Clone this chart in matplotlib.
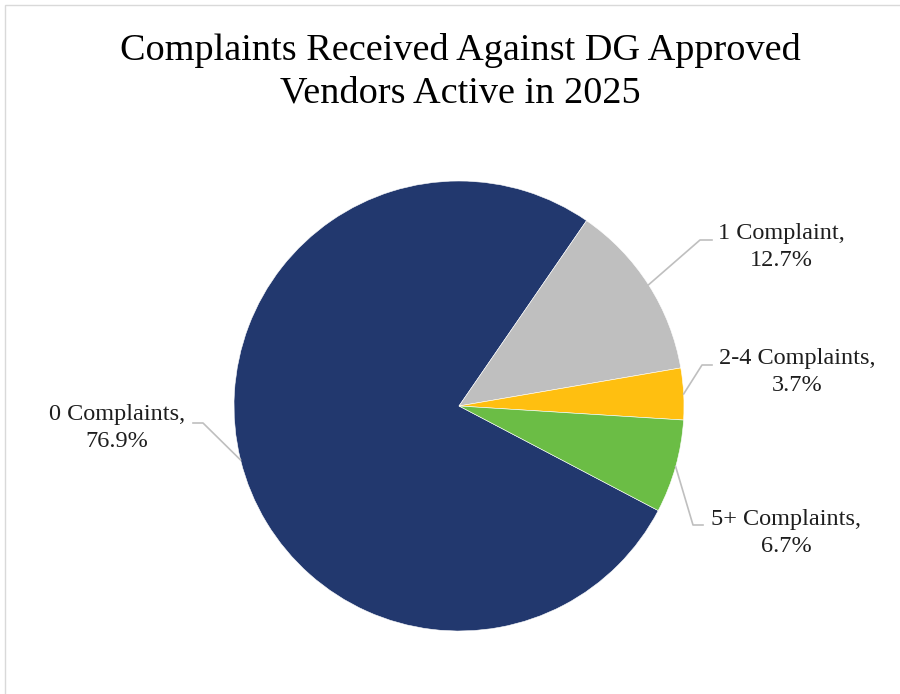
import numpy as np
import matplotlib
matplotlib.use("Agg")
import matplotlib.pyplot as plt
from matplotlib.patches import Rectangle

# ── data ─────────────────────────────────────────────
CATEGORIES = ["0 Complaints", "1 Complaint", "2-4 Complaints", "5+ Complaints"]
SHARES = [76.9, 12.7, 3.7, 6.7]
COLORS = ["#22386E", "#BFBFBF", "#FFBF10", "#6BBD45"]
TITLE = "Complaints Received Against DG Approved\nVendors Active in 2025"

FONT = ["Liberation Serif", "DejaVu Serif"]
W, H = 900, 694
CX, CY, R = 459, 406, 225  # pie centre / radius in pixels

# label centre (px) and horizontal stub: (y, x_near_text, x_far)
LABEL_POS = [(117, 428), (781, 247), (797, 372), (786, 533)]
STUBS = [(423, 193, 203), (240, 712, 700), (365, 712, 702), (525, 703, 693)]

fig = plt.figure(figsize=(W / 100, H / 100), dpi=100)
fig.patches.append(Rectangle((5 / W, -0.1), 1.2, 1.1 - 5 / H, transform=fig.transFigure,
                             fill=False, edgecolor="#D9D9D9", linewidth=1.0))

ax = fig.add_axes([(CX - R) / W, (H - CY - R) / H, 2 * R / W, 2 * R / H])
wedges, _ = ax.pie(SHARES, colors=COLORS, startangle=-27.7, counterclock=False,
                   radius=1.0, wedgeprops=dict(edgecolor="white", linewidth=0.4))
ax.set_xlim(-1, 1)
ax.set_ylim(-1, 1)
ax.set_aspect("equal")
ax.axis("off")


def px2data(px, py):
    return (px - CX) / R, (CY - py) / R


for w, cat, val, (lx, ly), (sy, sx0, sx1) in zip(wedges, CATEGORIES, SHARES, LABEL_POS, STUBS):
    mid = np.deg2rad((w.theta1 + w.theta2) / 2)
    tip = (np.cos(mid), np.sin(mid))
    a = px2data(sx0, sy)
    b = px2data(sx1, sy)
    ax.plot([a[0], b[0], tip[0]], [a[1], b[1], tip[1]], color="#BFBFBF", lw=1.2,
            clip_on=False, zorder=3)
    tx, ty = px2data(lx, ly)
    ax.text(tx, ty, f"{cat},\n{val:.1f}%", ha="center", va="center", fontsize=17.5,
            family=FONT, color="#1E1E1E", linespacing=1.4)

fig.text(460 / W, 1 - 72 / H, TITLE, ha="center", va="center", fontsize=27.5,
         family=FONT, color="black", linespacing=1.32)

fig.savefig("out.png", dpi=100)
